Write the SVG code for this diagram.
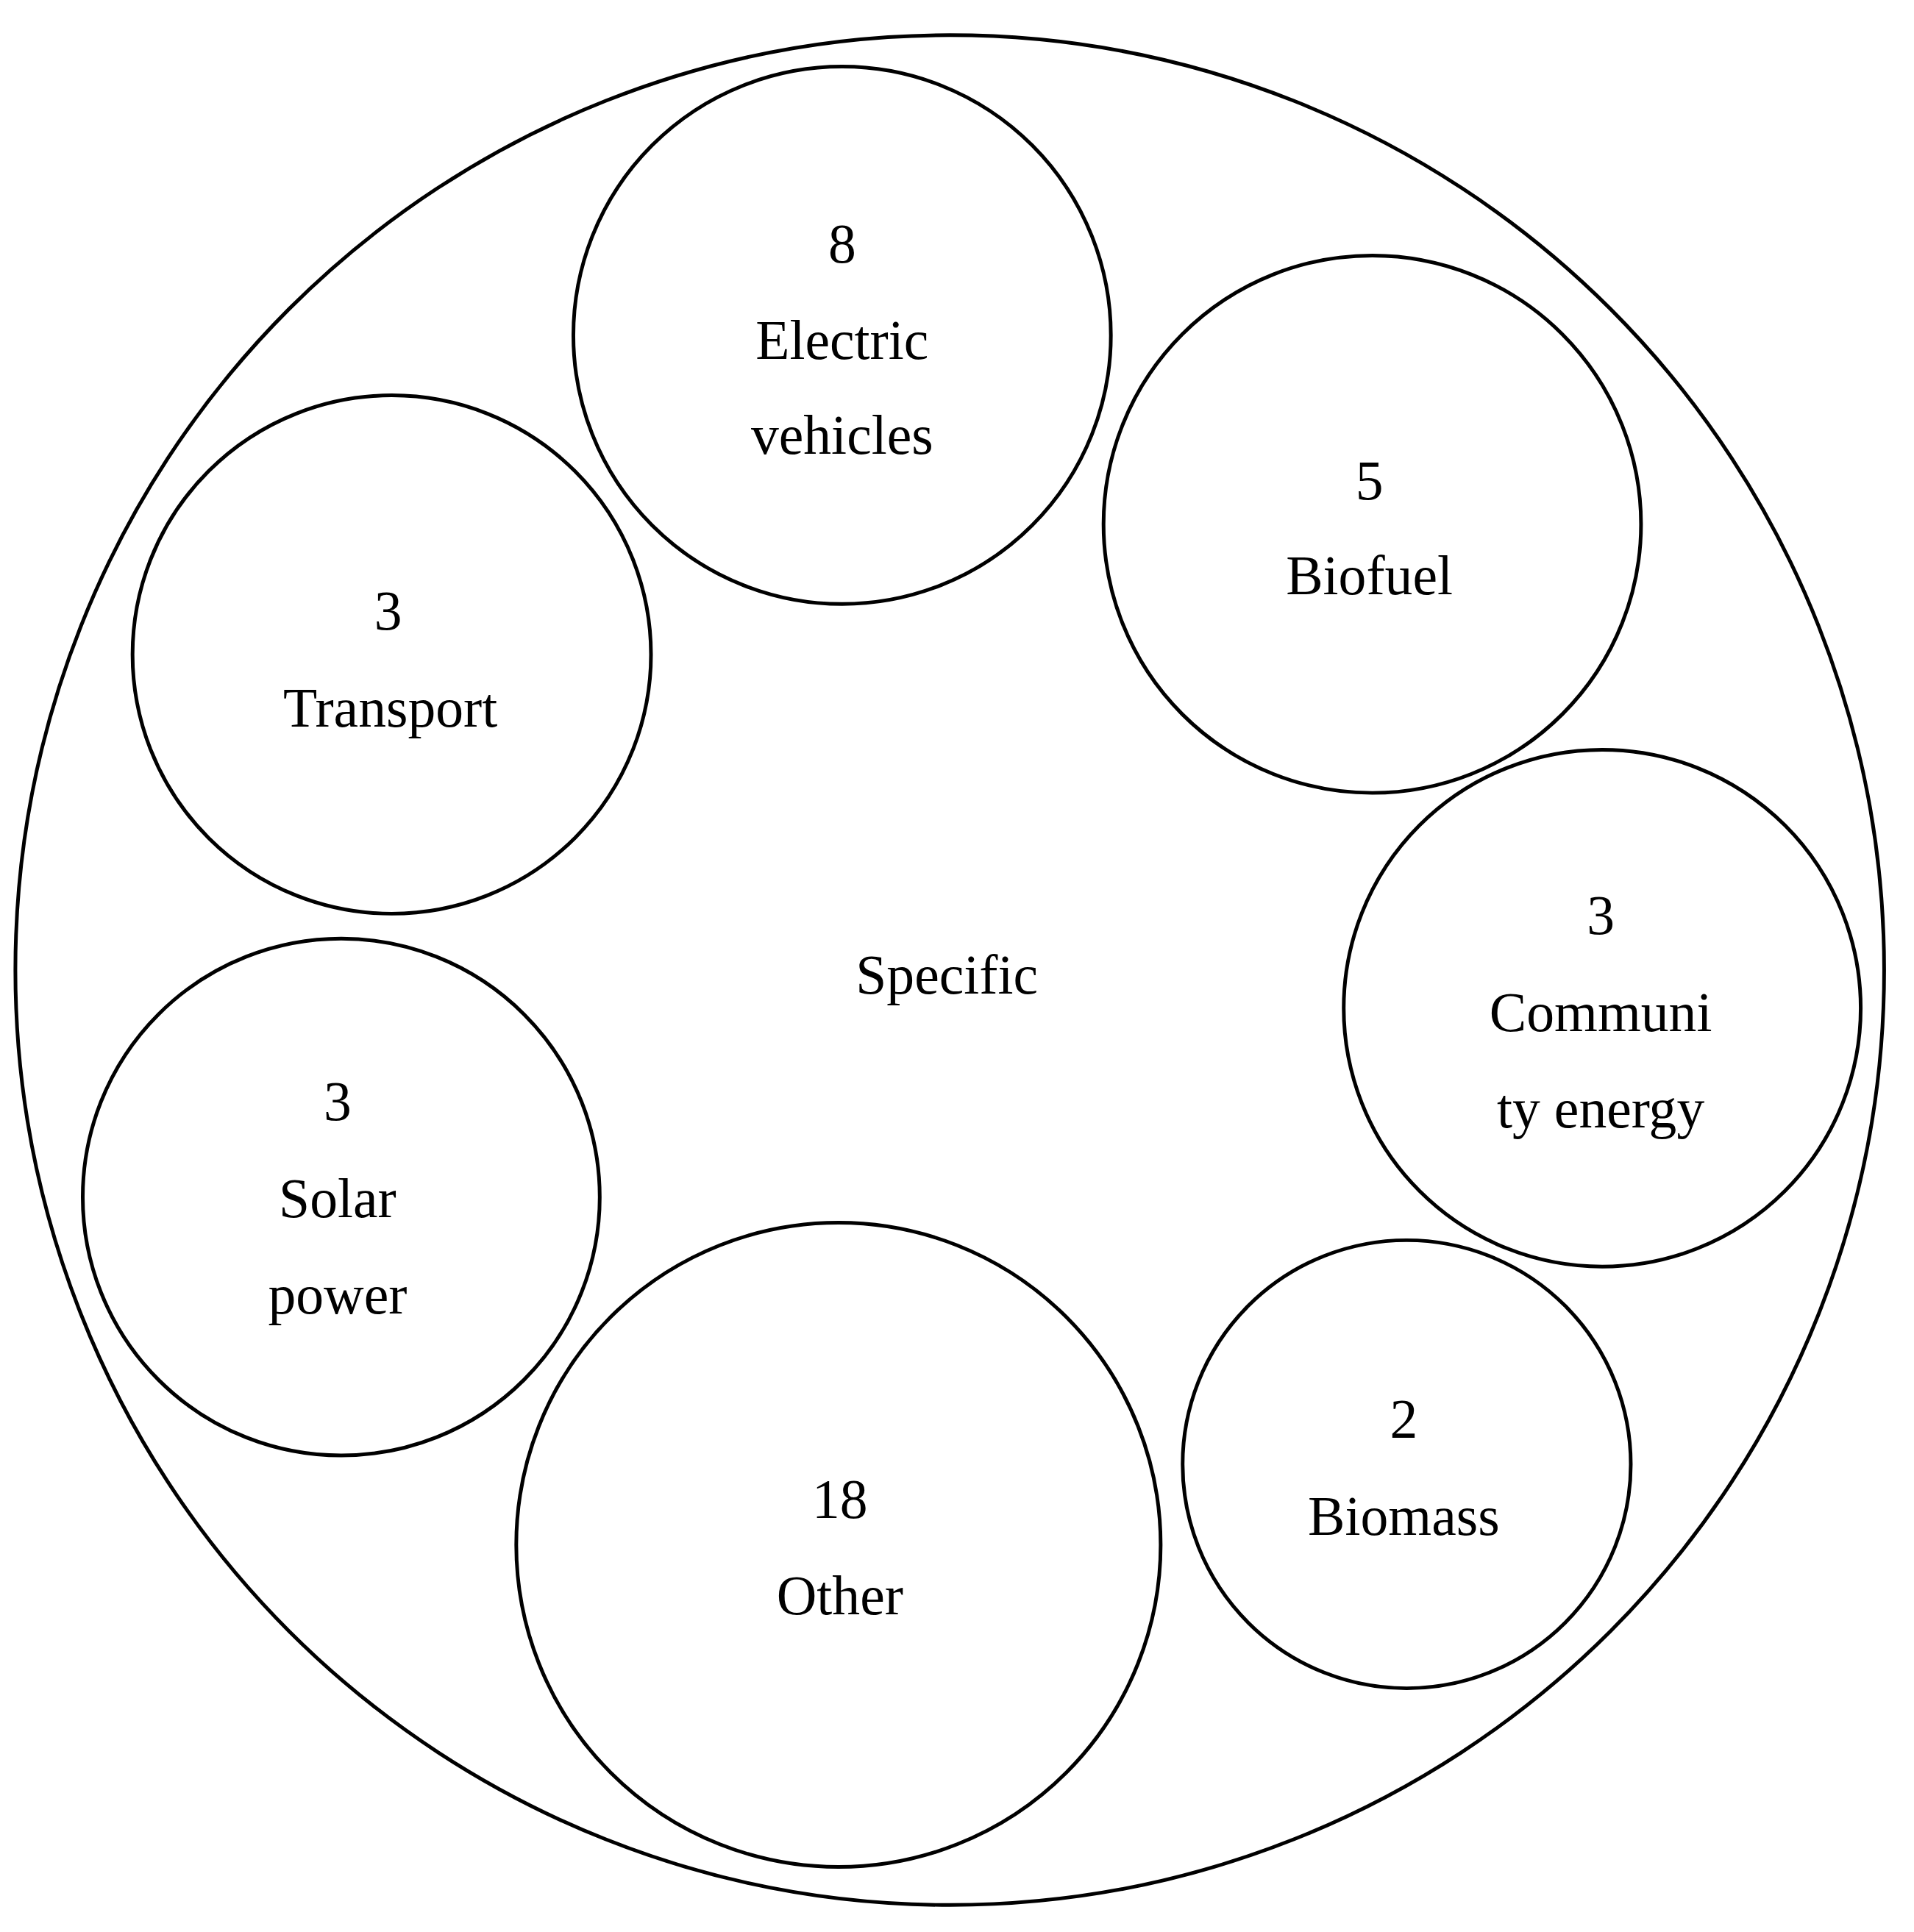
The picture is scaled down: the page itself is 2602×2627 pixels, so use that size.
<svg xmlns="http://www.w3.org/2000/svg" width="2602" height="2627" viewBox="0 0 2602 2627">
<style>
circle,ellipse{fill:none;stroke:#000;stroke-width:5}
text{font-family:"Liberation Serif","DejaVu Serif",serif;font-size:76px;text-anchor:middle;fill:#000}
</style>
<rect width="2602" height="2627" fill="#fff"/>
<g transform="scale(0.9955)">
<g id="outer"><ellipse cx="1297" cy="1325" rx="1276" ry="1277"/><text x="1293" y="1357">Specific</text></g>
<g id="ev"><circle cx="1150" cy="458" r="367"/><text x="1150" y="359">8</text><text x="1150" y="490">Electric</text><text x="1150" y="620">vehicles</text></g>
<g id="biofuel"><circle cx="1874" cy="716" r="367"/><text x="1870" y="682">5</text><text x="1870" y="812">Biofuel</text></g>
<g id="transport"><circle cx="535" cy="894" r="354"/><text x="530" y="860">3</text><text x="533" y="992">Transport</text></g>
<g id="community"><circle cx="2188" cy="1377" r="353"/><text x="2186" y="1276">3</text><text x="2186" y="1408">Communi</text><text x="2186" y="1540">ty energy</text></g>
<g id="solar"><circle cx="466" cy="1635" r="353"/><text x="461" y="1530">3</text><text x="461" y="1662">Solar</text><text x="461" y="1794">power</text></g>
<g id="other"><circle cx="1145" cy="2110" r="440"/><text x="1147" y="2073">18</text><text x="1147" y="2205">Other</text></g>
<g id="biomass"><circle cx="1921" cy="2000" r="306"/><text x="1917" y="1964">2</text><text x="1917" y="2096">Biomass</text></g>
<g id="connectors"/>
</g>
</svg>
